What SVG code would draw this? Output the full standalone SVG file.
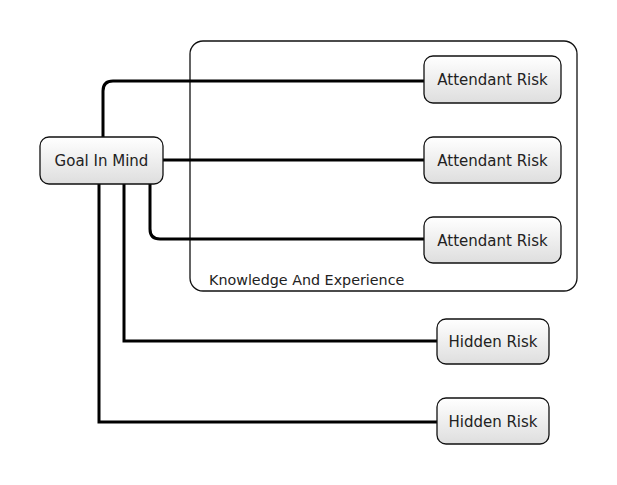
<svg xmlns="http://www.w3.org/2000/svg" width="617" height="485" viewBox="0 0 617 485">
<defs>
<linearGradient id="g" x1="0" y1="0" x2="0" y2="1">
<stop offset="0" stop-color="#ffffff"/>
<stop offset="1" stop-color="#dedede"/>
</linearGradient>
<style>
.node{fill:url(#g);stroke:#111;stroke-width:1.3}
.t{font-family:"DejaVu Sans",sans-serif;font-size:15px;fill:#222;text-anchor:middle}
.c{fill:none;stroke:#000;stroke-width:3}
</style>
</defs>
<rect width="617" height="485" fill="#fff"/>
<g id="container">
<rect x="190" y="41" width="387" height="250" rx="13" fill="none" stroke="#111" stroke-width="1.3"/>
<text x="209" y="285" style="font-family:'DejaVu Sans',sans-serif;font-size:14.3px;fill:#222">Knowledge And Experience</text>
</g>
<g id="connectors">
<path class="c" d="M103,137 V91 Q103,81 113,81 H424"/>
<path class="c" d="M163,160 H424"/>
<path class="c" d="M150,184 V229 Q150,239 160,239 H424"/>
<path class="c" d="M124,184 V341 H437"/>
<path class="c" d="M99,184 V422 H437"/>
</g>
<g id="goal">
<rect class="node" x="40" y="137" width="123" height="47" rx="9"/>
<text class="t" x="101.5" y="166">Goal In Mind</text>
</g>
<g id="attendant1">
<rect class="node" x="424" y="56" width="137" height="47" rx="9"/>
<text class="t" x="492.5" y="85">Attendant Risk</text>
</g>
<g id="attendant2">
<rect class="node" x="424" y="137" width="137" height="46" rx="9"/>
<text class="t" x="492.5" y="166">Attendant Risk</text>
</g>
<g id="attendant3">
<rect class="node" x="424" y="217" width="137" height="46" rx="9"/>
<text class="t" x="492.5" y="246">Attendant Risk</text>
</g>
<g id="hidden1">
<rect class="node" x="437" y="319" width="112" height="45" rx="9"/>
<text class="t" x="493" y="347">Hidden Risk</text>
</g>
<g id="hidden2">
<rect class="node" x="437" y="398" width="112" height="46" rx="9"/>
<text class="t" x="493" y="427">Hidden Risk</text>
</g>
</svg>
